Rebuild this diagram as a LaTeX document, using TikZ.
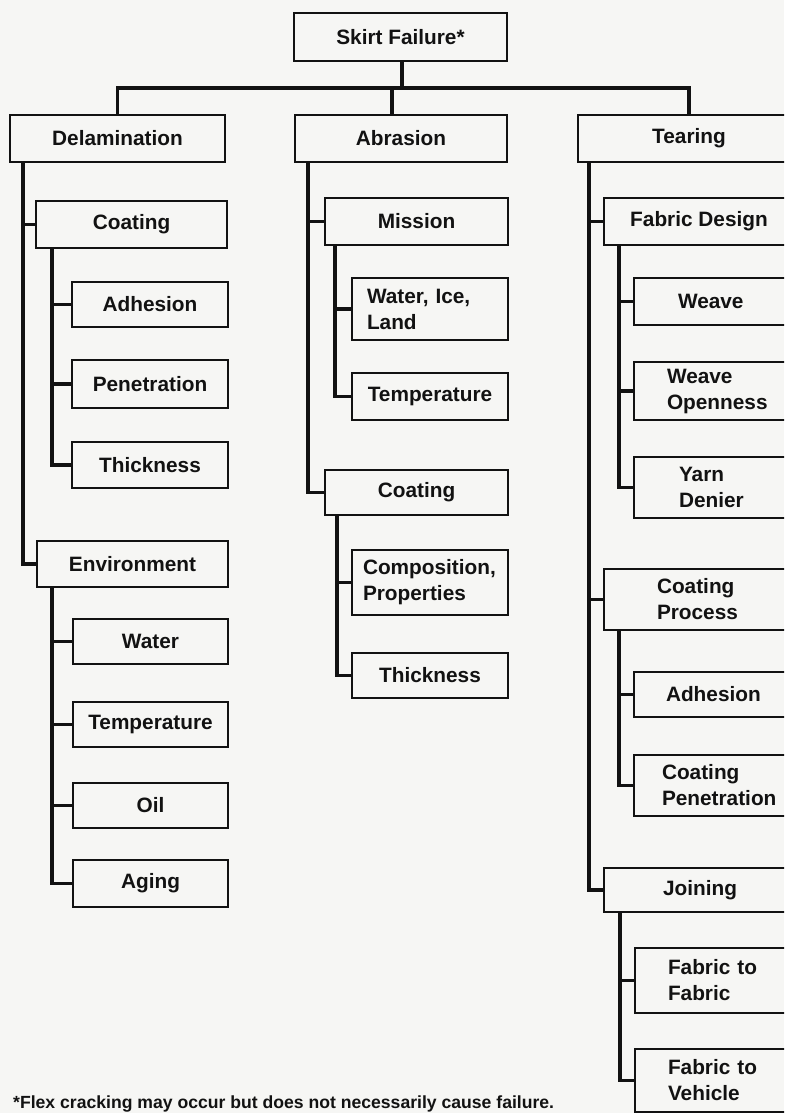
\documentclass[tikz,border=0pt]{standalone}
\usepackage{fontspec}
\setmainfont{Liberation Sans}
\definecolor{paper}{RGB}{246,246,244}
\definecolor{ink}{RGB}{18,18,18}
\begin{document}
\frenchspacing
\begin{tikzpicture}[x=1pt,y=-1pt,
  box/.style={draw=ink, text=ink, line width=2.6pt, rectangle, anchor=north west,
    inner sep=0pt, outer sep=0pt, align=center,
    font=\fontsize{20.8}{26}\selectfont\bfseries},
  lbox/.style={box, align=left},
  conn/.style={draw=ink, line width=3.8pt}]
\useasboundingbox (0,0) rectangle (784,1113);
\clip (0,0) rectangle (784,1113);
\fill[paper] (0,0) rectangle (784,1113);

% level 0 and 1
\node[box, minimum width=213pt, minimum height=48pt] (root) at (294,13) {Skirt Failure*};
\node[box, minimum width=215pt, minimum height=47pt] (delam) at (10,115) {Delamination};
\node[box, minimum width=212pt, minimum height=47pt] (abr) at (295,115) {Abrasion};
\node[box, minimum width=222pt, minimum height=47pt] (tear) at (578,115) {Tearing};

% Delamination branch
\node[box, minimum width=191pt, minimum height=47pt] (coat1) at (36,201) {Coating};
\node[box, minimum width=156pt, minimum height=45pt] (adh1) at (72,282) {Adhesion};
\node[box, minimum width=156pt, minimum height=48pt] (pen1) at (72,360) {Penetration};
\node[box, minimum width=156pt, minimum height=46pt] (thk1) at (72,442) {Thickness};
\node[box, minimum width=191pt, minimum height=46pt] (env) at (37,541) {Environment};
\node[box, minimum width=155pt, minimum height=45pt] (water) at (73,619) {Water};
\node[box, minimum width=155pt, minimum height=45pt] (temp1) at (73,702) {Temperature};
\node[box, minimum width=155pt, minimum height=45pt] (oil) at (73,783) {Oil};
\node[box, minimum width=155pt, minimum height=47pt] (aging) at (73,860) {Aging};

% Abrasion branch
\node[box, minimum width=183pt, minimum height=47pt] (mission) at (325,198) {Mission};
\node[lbox, minimum width=156pt, minimum height=62pt, text width=126pt] (wil) at (352,278) {Water, Ice,\\Land};
\node[box, minimum width=156pt, minimum height=47pt] (temp2) at (352,373) {Temperature};
\node[box, minimum width=183pt, minimum height=45pt] (coat2) at (325,470) {Coating};
\node[lbox, minimum width=156pt, minimum height=65pt, text width=134pt] (comp) at (352,550) {Composition,\\Properties};
\node[box, minimum width=156pt, minimum height=45pt] (thk2) at (352,653) {Thickness};

% Tearing branch
\node[box, minimum width=190pt, minimum height=47pt] (fd) at (604,198) {Fabric Design};
\node[lbox, minimum width=200pt, minimum height=47pt, text width=112pt] (weave) at (634,278) {Weave};
\node[lbox, minimum width=200pt, minimum height=58pt, text width=134pt] (wo) at (634,362) {Weave\\Openness};
\node[lbox, minimum width=200pt, minimum height=61pt, text width=110pt] (yd) at (634,457) {Yarn\\Denier};
\node[lbox, minimum width=200pt, minimum height=61pt, text width=94pt] (cp) at (604,569) {Coating\\Process};
\node[lbox, minimum width=200pt, minimum height=45pt, text width=136pt] (adh3) at (634,672) {Adhesion};
\node[lbox, minimum width=200pt, minimum height=61pt, text width=144pt] (cpen) at (634,755) {Coating\\Penetration};
\node[lbox, minimum width=200pt, minimum height=44pt, text width=82pt] (join) at (604,868) {Joining};
\node[lbox, minimum width=200pt, minimum height=65pt, text width=134pt] (ftf) at (635,948) {Fabric to\\Fabric};
\node[lbox, minimum width=200pt, minimum height=63pt, text width=134pt] (ftv) at (635,1049) {Fabric to\\Vehicle};

% footnote
\node[anchor=base west, inner sep=0pt, text=ink, font=\fontsize{17.6}{20}\selectfont\bfseries] (fn) at (13,1108)
  {*Flex cracking may occur but does not necessarily cause failure.};

% top connectors
\coordinate (bus) at (402,88);
\draw[conn] ([xshift=1.5pt]root.south) -- ([xshift=1.5pt]root.south |- bus);
\draw[conn] (delam.north) |- (bus) -| (tear.north);
\draw[conn] ([xshift=-9pt]abr.north) -- ([xshift=-9pt]abr.north |- bus);

% trunks
\coordinate (tD) at ([xshift=13pt]delam.south west);
\draw[conn] (tD) |- (coat1.west);
\draw[conn] (tD) |- (env.west);
\coordinate (tC1) at ([xshift=16pt]coat1.south west);
\foreach \n in {adh1,pen1,thk1} \draw[conn] (tC1) |- (\n.west);
\coordinate (tE) at ([xshift=15pt]env.south west);
\foreach \n in {water,temp1,oil,aging} \draw[conn] (tE) |- (\n.west);

\coordinate (tA) at ([xshift=13pt]abr.south west);
\draw[conn] (tA) |- (mission.west);
\draw[conn] (tA) |- (coat2.west);
\coordinate (tM) at ([xshift=10pt]mission.south west);
\foreach \n in {wil,temp2} \draw[conn] (tM) |- (\n.west);
\coordinate (tC2) at ([xshift=12pt]coat2.south west);
\foreach \n in {comp,thk2} \draw[conn] (tC2) |- (\n.west);

\coordinate (tT) at ([xshift=11pt]tear.south west);
\foreach \n in {fd,cp,join} \draw[conn] (tT) |- (\n.west);
\coordinate (tF) at ([xshift=15pt]fd.south west);
\foreach \n in {weave,wo,yd} \draw[conn] (tF) |- (\n.west);
\coordinate (tP) at ([xshift=15pt]cp.south west);
\foreach \n in {adh3,cpen} \draw[conn] (tP) |- (\n.west);
\coordinate (tJ) at ([xshift=16pt]join.south west);
\foreach \n in {ftf,ftv} \draw[conn] (tJ) |- (\n.west);
\end{tikzpicture}
\end{document}
